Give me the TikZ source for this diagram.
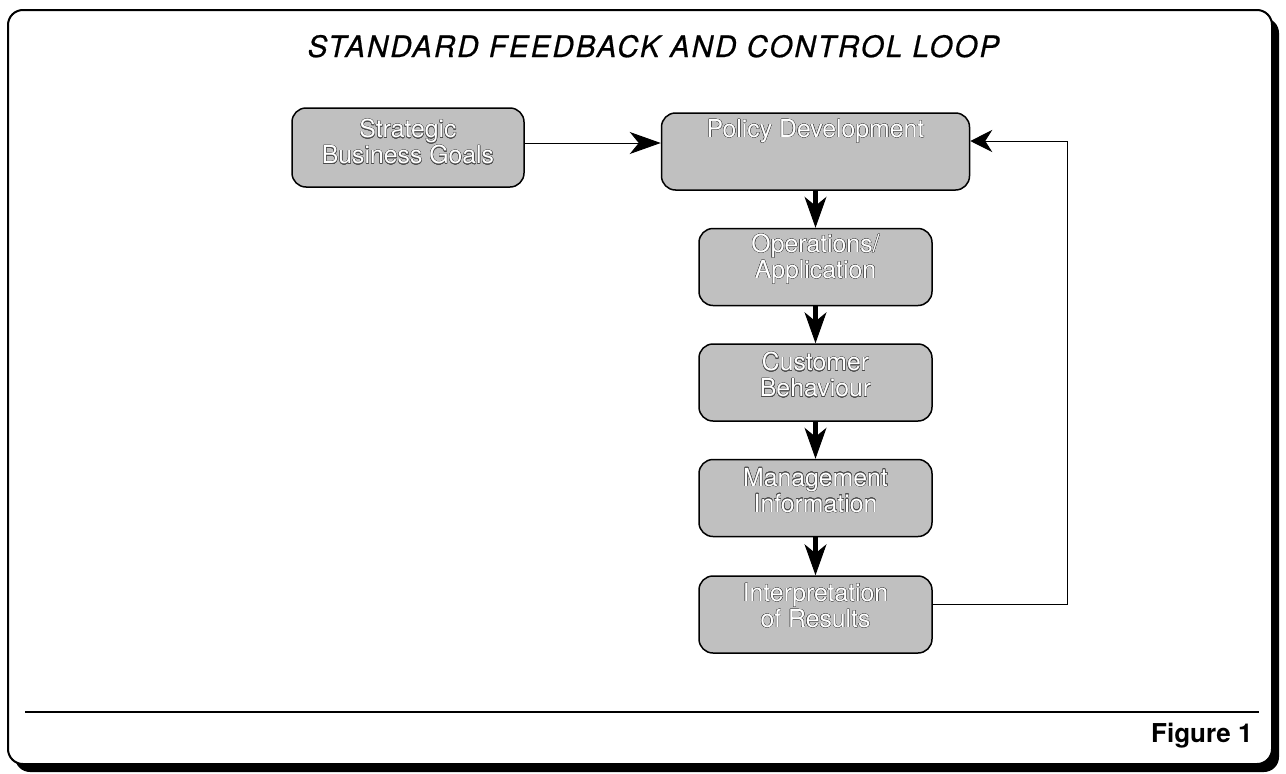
\documentclass[tikz,border=0pt]{standalone}
\usepackage{fontspec}
\setmainfont{TeX Gyre Heros}
\newfontfamily\titlefont[LetterSpace=7,FakeBold=0.6]{TeX Gyre Heros}
\usepackage{contour}
\contourlength{0.35pt}
\usetikzlibrary{arrows.meta,positioning}

\definecolor{boxgrey}{RGB}{192,192,192}
% white lettering with a thin dark rim
\newcommand{\otext}[1]{\contour{black!70}{#1}}

\begin{document}
\begin{tikzpicture}[x=1pt,y=-1pt,
  flowbox/.style={draw, line width=1.5pt, fill=boxgrey, rounded corners=14pt,
    minimum width=233pt, minimum height=77pt, inner sep=0pt},
  boxtext/.style={text=white, align=center, inner sep=0pt,
    font=\fontsize{24.8}{26}\selectfont},
  bigarrow/.style={line width=5pt,
    -{Stealth[length=31pt,width=22pt,inset=9pt,line width=1pt]}},
  thinarrow/.style={line width=1pt,
    -{Stealth[length=31pt,width=22pt,inset=9pt,line width=1pt]}}]

\useasboundingbox (0,0) rectangle (1286,774);

% Frame with its shadow
\fill[rounded corners=15pt] (15,18) rectangle (1279,772);
\draw[line width=2pt, fill=white, rounded corners=15pt] (8,10) rectangle (1272,764);

% Rule above the caption
\coordinate (rule-l) at (25,712);
\coordinate (rule-r) at (1259,712);
\draw[line width=2pt] (rule-l) -- (rule-r);

% Title and caption
\node[font=\fontsize{29.5}{32}\titlefont\itshape, anchor=base] (title) at (653.5,57)
  {STANDARD FEEDBACK AND CONTROL LOOP};
\node[font=\fontsize{26}{28}\selectfont\bfseries, anchor=base east] (fig) at (1256,742)
  {Figure 1};

% The boxes
\node[flowbox, minimum width=232pt, minimum height=79pt] (goals) at (408,147.5) {};
\node[flowbox, minimum width=308pt] (policy) at (815.5,151.5) {};
\node[flowbox] (ops) at (815.5,267) {};
\node[flowbox] (cust) at (815.5,382.5) {};
\node[flowbox] (mgmt) at (815.5,498) {};
\node[flowbox] (interp) at (815.5,614.5) {};

% Box labels, hung from the top edge
\node[boxtext, below=12pt of goals.north] (goals-t) {\otext{Strategic}\\\otext{Business Goals}};
\node[boxtext, below=7pt of policy.north] (policy-t) {\otext{Policy Development}};
\node[boxtext, below=6pt of ops.north] (ops-t) {\otext{Operations/}\\\otext{Application}};
\node[boxtext, below=9pt of cust.north] (cust-t) {\otext{Customer}\\\otext{Behaviour}};
\node[boxtext, below=9pt of mgmt.north] (mgmt-t) {\otext{Management}\\\otext{Information}};
\node[boxtext, below=8pt of interp.north] (interp-t) {\otext{Interpretation}\\\otext{of Results}};

% Main flow down the column
\draw[bigarrow] (policy) -- (ops);
\draw[bigarrow] (ops) -- (cust);
\draw[bigarrow] (cust) -- (mgmt);
\draw[bigarrow] (mgmt) -- (interp);

% Goals feed into policy
\coordinate (g-out) at ([yshift=4.5pt]goals.east);
\draw[thinarrow] (g-out) -- (g-out -| policy.west);

% Feedback path back to policy
\coordinate (i-out) at ([yshift=10.5pt]interp.east);
\coordinate (ret) at (1067,141);
\draw[thinarrow, -{Stealth[length=22pt,width=22pt,inset=7pt,line width=1pt]}]
  (i-out) -| (ret) -- (ret -| policy.east);

\end{tikzpicture}
\end{document}
